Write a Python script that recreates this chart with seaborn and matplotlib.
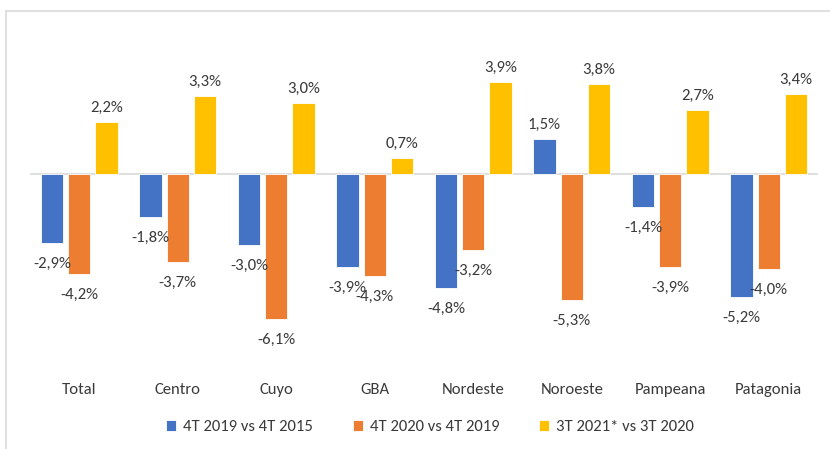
import pandas as pd
import matplotlib.pyplot as plt
import seaborn as sns
from matplotlib.patches import Rectangle

regions = ['Total', 'Centro', 'Cuyo', 'GBA', 'Nordeste', 'Noroeste', 'Pampeana', 'Patagonia']
series = ['4T 2019 vs 4T 2015', '4T 2020 vs 4T 2019', '3T 2021* vs 3T 2020']
v_2019_2015 = [-2.9, -1.8, -3.0, -3.9, -4.8, 1.5, -1.4, -5.2]
v_2020_2019 = [-4.2, -3.7, -6.1, -4.3, -3.2, -5.3, -3.9, -4.0]
v_2021_2020 = [2.2, 3.3, 3.0, 0.7, 3.9, 3.8, 2.7, 3.4]
colors = ['#4472C4', '#ED7D31', '#FFC000']


def fmt(v):
    # Spanish decimal comma
    return f"{v:.1f}%".replace('.', ',')


def main():
    df = pd.DataFrame({
        'region': regions * 3,
        'serie': [series[0]] * 8 + [series[1]] * 8 + [series[2]] * 8,
        'value': v_2019_2015 + v_2020_2019 + v_2021_2020,
    })

    sns.set_theme(style="white")
    plt.rcParams['font.family'] = ['Carlito', 'Lato', 'DejaVu Sans']
    text_color = '#3a3a3a'
    fs = 12

    fig = plt.figure(figsize=(8.3, 4.49), dpi=100)
    ax = fig.add_axes([30 / 830, 1 - 365 / 449, 788 / 830, 335 / 449])

    sns.barplot(data=df, x='region', y='value', hue='serie', palette=colors,
                saturation=1, width=0.83, gap=0.19, edgecolor='white', linewidth=0.6,
                legend=True, ax=ax)

    # data labels: negatives sit a bit further from the bar end than positives
    for cont, vals in zip(ax.containers, [v_2019_2015, v_2020_2019, v_2021_2020]):
        pos = [fmt(v) if v >= 0 else '' for v in vals]
        neg = [fmt(v) if v < 0 else '' for v in vals]
        ax.bar_label(cont, labels=pos, padding=5, fontsize=fs, color=text_color)
        ax.bar_label(cont, labels=neg, padding=10, fontsize=fs, color=text_color)

    ax.set_xlim(-0.5, 7.5)
    ax.set_ylim(-8.05, 6.08)
    ax.axhline(0, color='#D9D9D9', linewidth=1.2, zorder=0)
    for s in ax.spines.values():
        s.set_visible(False)
    ax.set_yticks([])
    ax.set_xlabel('')
    ax.set_ylabel('')
    ax.tick_params(axis='x', length=0, pad=13, labelsize=fs, labelcolor=text_color)

    handles, labels = ax.get_legend_handles_labels()
    ax.get_legend().remove()
    fig.legend(handles, labels, loc='center', bbox_to_anchor=(430 / 830, 1 - 427 / 449),
               ncol=3, frameon=False, fontsize=fs, labelcolor=text_color,
               handlelength=0.6, handleheight=0.6, handletextpad=0.4, columnspacing=2.4)

    # chart area border (cut at right and bottom)
    fig.patches.append(Rectangle((6 / 830, -0.1), 1.2, 1.1 - 11 / 449, transform=fig.transFigure,
                                 fill=False, edgecolor='#D9D9D9', linewidth=1.2))

    fig.savefig('out.png', dpi=100)
    plt.close(fig)


if __name__ == "__main__":
    main()
